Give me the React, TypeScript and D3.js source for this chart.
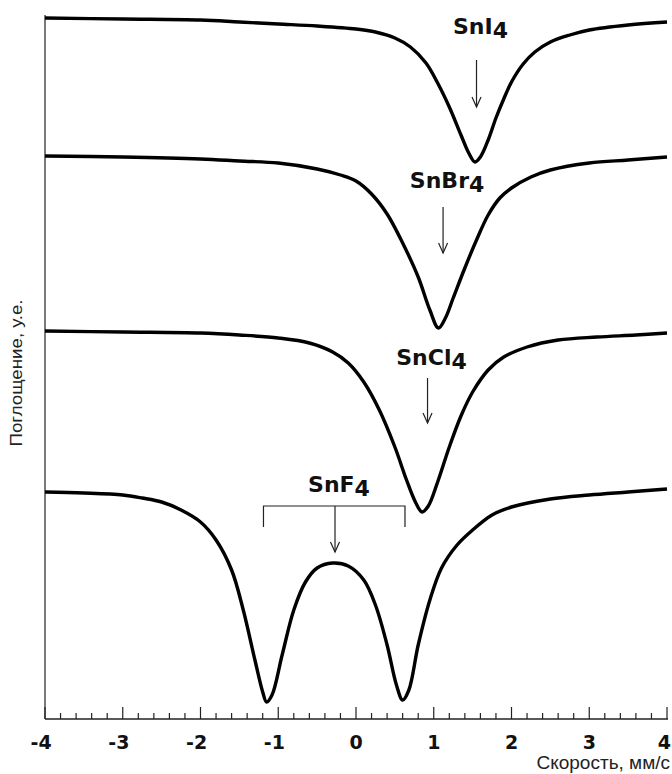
import React from 'react';
import * as d3 from 'd3';

const W = 672;
const H = 774;

// Axis ticks
const tickValues = [-4, -3, -2, -1, 0, 1, 2, 3, 4];
const tickLabels = ['-4', '-3', '-2', '-1', '0', '1', '2', '3', '4'];
const minorStep = 0.2;

// Titles
const xTitle = 'Скорость, мм/с';
const yTitle = 'Поглощение, у.е.';

// Compounds
const labelMain = ['SnI', 'SnBr', 'SnCl', 'SnF'];
const labelSub = ['4', '4', '4', '4'];
const isomerShift = [1.55, 1.12, 0.92, -0.27];
const quadrupolePair = [-1.19, 0.63];

// Spectra (velocity mm/s, counts in arbitrary units, curves are stacked)
const snI4Vel = [-4, -3, -2, -1.5, -1, -0.5, 0, 0.25, 0.5, 0.7, 0.9, 1.05, 1.2, 1.35, 1.45, 1.53, 1.6, 1.7, 1.8, 1.9, 2.0, 2.15, 2.3, 2.5, 2.75, 3.0, 3.5, 4];
const snI4Abs = [701, 700, 699, 697, 695, 693, 690, 687, 681, 672, 656, 636, 612, 584, 566, 557, 562, 579, 601, 620, 637, 655, 667, 677, 684, 689, 694, 697];

const snBr4Vel = [-4, -3, -2, -1.5, -1, -0.5, -0.2, 0, 0.2, 0.4, 0.6, 0.8, 0.95, 1.06, 1.15, 1.25, 1.4, 1.55, 1.7, 1.85, 2.0, 2.25, 2.5, 3.0, 3.5, 4];
const snBr4Abs = [563, 562, 560, 558, 556, 550, 544, 538, 525, 505, 476, 442, 409, 391, 401, 421, 451, 479, 504, 521, 531, 542, 549, 556, 559, 562];

const snCl4Vel = [-4, -3, -2, -1.5, -1, -0.6, -0.3, -0.1, 0.1, 0.3, 0.5, 0.65, 0.77, 0.85, 0.93, 1.05, 1.2, 1.35, 1.5, 1.7, 1.9, 2.2, 2.6, 3.1, 3.6, 4];
const snCl4Abs = [388, 387, 386, 384, 381, 376, 367, 356, 337, 309, 272, 239, 216, 207, 213, 237, 272, 303, 327, 349, 362, 372, 379, 382, 384, 386];

const snF4Vel = [-4, -3.5, -3, -2.75, -2.5, -2.25, -2.0, -1.8, -1.6, -1.45, -1.3, -1.2, -1.15, -1.08, -0.95, -0.8, -0.65, -0.5, -0.3, -0.1, 0.1, 0.25, 0.4, 0.52, 0.6, 0.68, 0.8, 0.95, 1.1, 1.3, 1.5, 1.75, 2.0, 2.5, 3.0, 3.5, 4];
const snF4Abs = [227, 226, 224, 221, 217, 209, 197, 179, 149, 109, 59, 27, 17, 24, 64, 109, 137, 151, 156, 153, 139, 114, 74, 34, 19, 29, 74, 119, 151, 174, 189, 204, 212, 220, 224, 227, 230];

const spectraVel = [snI4Vel, snBr4Vel, snCl4Vel, snF4Vel];
const spectraAbs = [snI4Abs, snBr4Abs, snCl4Abs, snF4Abs];

// Layout (pixels)
const left = 45;
const right = 667;
const axisY = 719;
const topY = 15;
const labelBaseline = [34, 188, 365, 492];
const arrowTop = [60, 207, 378, 506];
const arrowBottom = [107, 253, 423, 552];

export default function App() {
  const x = d3.scaleLinear().domain([-4, 4]).range([left, right]);
  const y = d3.scaleLinear().domain([0, 704]).range([axisY, topY]);

  const line = d3
    .line<[number, number]>()
    .x((d) => x(d[0]))
    .y((d) => y(d[1]))
    .curve(d3.curveCatmullRom.alpha(0.5));

  const minorTicks = d3.range(-4, 4.0001, minorStep).map((v) => Math.round(v * 10) / 10);

  const digitHalf = (0.696 * 19) / 2;
  const labelFont = "'DejaVu Sans', sans-serif";

  const arrowHead = (cx: number, yb: number) =>
    `M${cx - 4.5},${yb - 10} L${cx},${yb} L${cx + 4.5},${yb - 10}`;

  return (
    <svg
      width={W}
      height={H}
      style={{ position: 'absolute', left: 0, top: 0, background: '#fff' }}
    >
      <rect x={0} y={0} width={W} height={H} fill="#fff" />
      {/* axes */}
      <line x1={left} y1={topY} x2={left} y2={axisY} stroke="#222" strokeWidth={1.2} />
      <line x1={left} y1={axisY} x2={right + 1} y2={axisY} stroke="#222" strokeWidth={1.4} />
      {minorTicks.map((v, i) => {
        const major = Math.abs(v - Math.round(v)) < 1e-6;
        return (
          <line
            key={i}
            x1={x(v)}
            x2={x(v)}
            y1={axisY}
            y2={axisY - (major ? 12 : 6)}
            stroke="#222"
            strokeWidth={1.2}
          />
        );
      })}
      {tickValues.map((v, i) => (
        <text
          key={i}
          x={Math.min(x(v) + digitHalf, 671)}
          y={axisY + 30}
          textAnchor="end"
          fontFamily={labelFont}
          fontWeight="bold"
          fontSize={19}
          fill="#111"
        >
          {tickLabels[i]}
        </text>
      ))}
      <text
        x={670}
        y={769}
        textAnchor="end"
        fontFamily="'Liberation Sans', Arial, sans-serif"
        fontSize={19}
        fill="#222"
      >
        {xTitle}
      </text>
      <text
        transform="translate(22,373) rotate(-90)"
        textAnchor="middle"
        fontFamily="'Liberation Sans', Arial, sans-serif"
        fontSize={17}
        fill="#222"
        textLength={147}
        lengthAdjust="spacingAndGlyphs"
      >
        {yTitle}
      </text>

      {/* spectra */}
      {spectraVel.map((vel, i) => (
        <path
          key={i}
          d={line(vel.map((v, j) => [v, spectraAbs[i][j]]) as [number, number][]) || ''}
          fill="none"
          stroke="#000"
          strokeWidth={3.4}
          strokeLinejoin="round"
        />
      ))}

      {/* annotations */}
      {isomerShift.map((s, i) => {
        const cx = x(s);
        return (
          <g key={i}>
            <text
              x={cx + 4}
              y={labelBaseline[i]}
              textAnchor="middle"
              fontFamily={labelFont}
              fontWeight="bold"
              fontSize={22}
              fill="#111"
            >
              {labelMain[i]}
              <tspan dy={4}>{labelSub[i]}</tspan>
            </text>
            <line x1={cx} x2={cx} y1={arrowTop[i]} y2={arrowBottom[i]} stroke="#222" strokeWidth={1.2} />
            <path d={arrowHead(cx, arrowBottom[i])} fill="none" stroke="#222" strokeWidth={1.2} />
          </g>
        );
      })}
      <path
        d={`M${x(quadrupolePair[0])},${arrowTop[3] + 21} V${arrowTop[3]} H${x(quadrupolePair[1])} V${arrowTop[3] + 21}`}
        fill="none"
        stroke="#222"
        strokeWidth={1.2}
      />
    </svg>
  );
}
